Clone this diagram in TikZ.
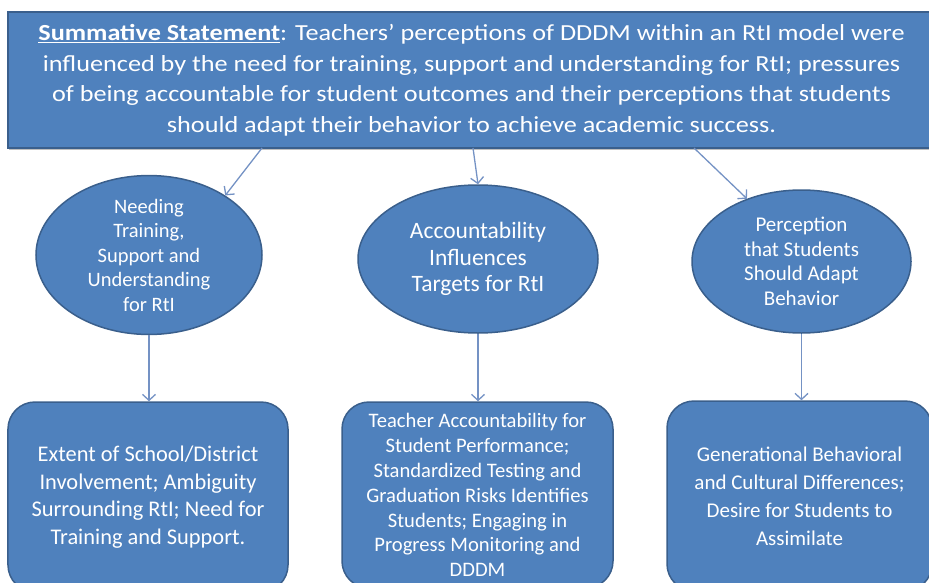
\documentclass[tikz,border=0pt]{standalone}
\usepackage{fontspec}
\setmainfont{Carlito}
\newfontfamily\widefont[FakeStretch=1.14]{Carlito}
\usetikzlibrary{shapes.geometric,arrows.meta,shadows}
\definecolor{boxblue}{HTML}{4F81BD}
\definecolor{boxedge}{HTML}{3A5F8C}
\definecolor{linkblue}{HTML}{7492C4}
\tikzset{
  summary/.style={rectangle, fill=boxblue, draw=boxedge, line width=1.5pt,
    text=white, align=center, inner sep=0pt,
    drop shadow={shadow xshift=1pt, shadow yshift=-2pt, opacity=0.5}},
  theme/.style={ellipse, fill=boxblue, draw=boxedge, line width=1.5pt,
    text=white, align=center, inner sep=0pt},
  detail/.style={rectangle, rounded corners=27pt, fill=boxblue, draw=boxedge,
    line width=1.5pt, text=white, align=center, inner sep=0pt},
  link/.style={draw=linkblue, line width=1.3pt,
    -{Straight Barb[length=6pt,width=13pt]}}}

\begin{document}
\begin{tikzpicture}[scale=0.3514598]
\useasboundingbox (0,0) rectangle (92.9,-58.2);
\node [summary, minimum width=927pt, minimum height=136pt,
  font=\widefont\fontsize{23}{30.5}\selectfont] (summary) at (47.15,-8.0)
  {\underline{\textbf{Summative Statement}}: Teachers’ perceptions of DDDM within an RtI model were\\
   influenced by the need for training, support and understanding for RtI; pressures\\
   of being accountable for student outcomes and their perceptions that students\\
   should adapt their behavior to achieve academic success.};
\node [theme, minimum width=226pt, minimum height=156pt,
  font=\fontsize{20.5}{24.5}\selectfont] (need) at (14.9,-25.5)
  {Needing\\Training,\\Support and\\Understanding\\for RtI};
\node [theme, minimum width=240pt, minimum height=148pt,
  font=\fontsize{23.5}{26.5}\selectfont] (account) at (47.8,-25.9)
  {Accountability\\Influences\\Targets for RtI};
\node [theme, minimum width=219pt, minimum height=143pt,
  font=\fontsize{21}{24.5}\selectfont] (adapt) at (80.15,-26.15)
  {Perception\\that Students\\Should Adapt\\Behavior};
\node [detail, minimum width=280pt, minimum height=190pt,
  font=\fontsize{22.4}{27.5}\selectfont] (extent) at (14.8,-49.7)
  {Extent of School/District\\Involvement; Ambiguity\\Surrounding RtI; Need for\\Training and Support.};
\node [detail, minimum width=271pt, minimum height=186pt,
  font=\fontsize{20.6}{24.9}\selectfont] (pressure) at (47.75,-49.5)
  {Teacher Accountability for\\Student Performance;\\Standardized Testing and\\Graduation Risks Identifies\\Students; Engaging in\\Progress Monitoring and\\DDDM};
\node [detail, minimum width=265pt, minimum height=190pt,
  font=\fontsize{21}{28}\selectfont] (culture) at (79.95,-49.6)
  {Generational Behavioral\\and Cultural Differences;\\Desire for Students to\\Assimilate};
\coordinate (s1) at (26.2,-14.8);
\coordinate (s2) at (47.3,-14.8);
\coordinate (s3) at (69.4,-14.8);
\draw [link] (s1) -- (need.38);
\draw [link] (s2) -- (account.north);
\draw [link] (s3) -- (adapt.131);
\draw [link] (need.south) -- (need.south |- extent.north);
\draw [link] (account.south) -- (account.south |- pressure.north);
\draw [link] (adapt.south) -- (adapt.south |- culture.north);
\end{tikzpicture}
\end{document}
